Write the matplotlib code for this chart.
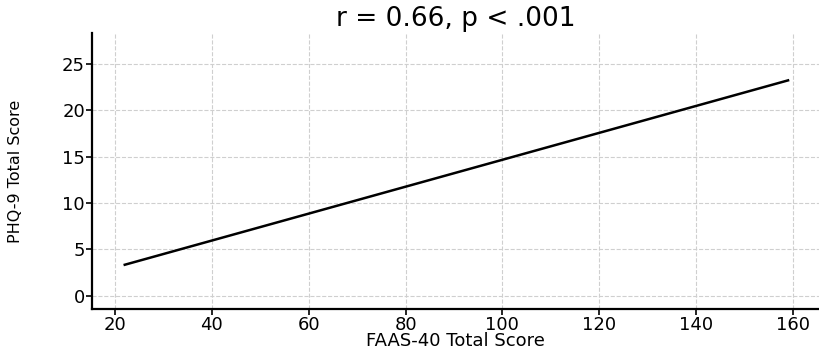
"""
Regression line of PHQ-9 total score on FAAS-40 total score.
Output: out.png
"""

import matplotlib
matplotlib.use("Agg")
import matplotlib.pyplot as plt

# fitted line endpoints
faas_total = [22, 159]
phq_fit = [3.35, 23.2]

x_ticks = [20, 40, 60, 80, 100, 120, 140, 160]
y_ticks = [0, 5, 10, 15, 20, 25]

TITLE = "r = 0.66, p < .001"
XLABEL = "FAAS-40 Total Score"
YLABEL = "PHQ-9 Total Score"


def main():
    fig = plt.figure(figsize=(8.2, 3.51), dpi=100)
    ax = fig.add_axes([0.112, 0.12, 0.888, 0.786])

    ax.plot(faas_total, phq_fit, color="black", linewidth=1.8)

    ax.set_xlim(15.2, 165.6)
    ax.set_ylim(-1.4, 28.3)
    ax.set_xticks(x_ticks)
    ax.set_yticks(y_ticks)

    ax.grid(True, linestyle="--", color="#cfcfcf", linewidth=0.8)
    ax.set_axisbelow(True)
    for side in ["top", "right"]:
        ax.spines[side].set_visible(False)
    for side in ["left", "bottom"]:
        ax.spines[side].set_linewidth(1.6)

    ax.tick_params(axis="both", labelsize=13, length=4, width=1.2, pad=1)
    ax.set_title(TITLE, fontsize=19, pad=5)
    ax.set_xlabel(XLABEL, fontsize=13)
    ax.xaxis.set_label_coords(0.5, -0.085)
    ax.set_ylabel(YLABEL, fontsize=11.5)
    ax.yaxis.set_label_coords(-0.095, 0.5)

    fig.savefig("out.png", dpi=100)


if __name__ == "__main__":
    main()
